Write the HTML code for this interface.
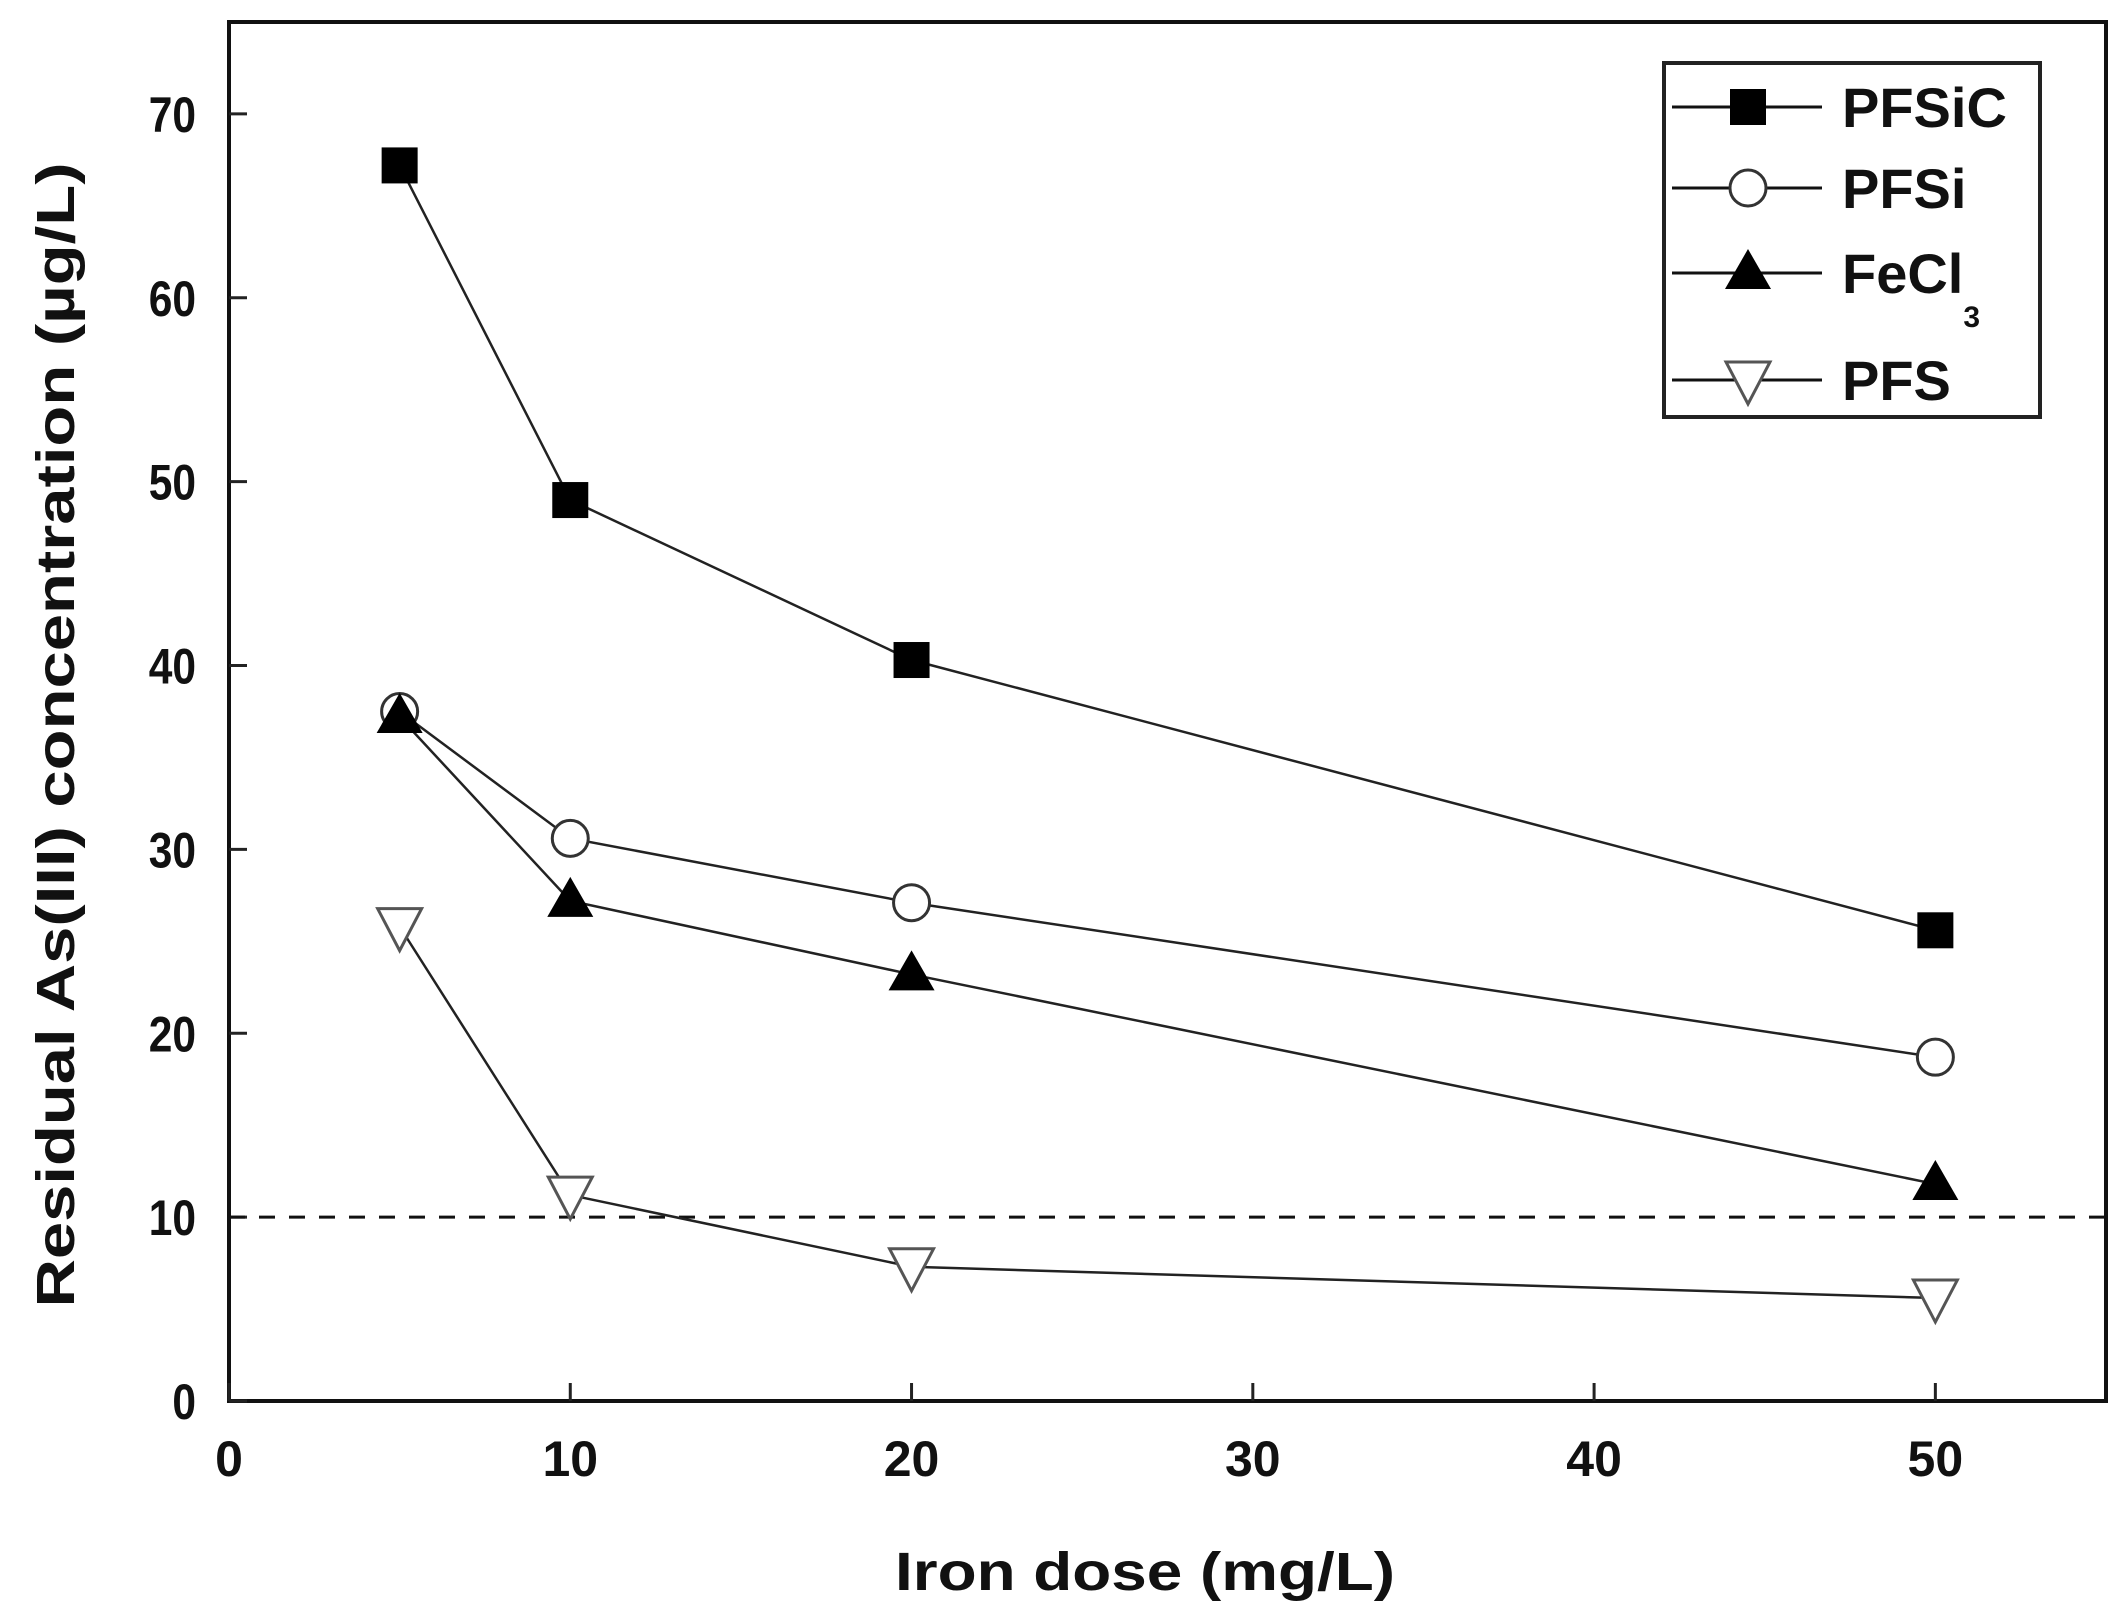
<!DOCTYPE html>
<html><head><meta charset="utf-8"><style>
html,body{margin:0;padding:0;background:#fff;}
svg{display:block;font-family:"Liberation Sans",Arial,sans-serif;}
</style></head><body>
<svg id="chart" width="2124" height="1611" viewBox="0 0 2124 1611" xmlns="http://www.w3.org/2000/svg">
<g id="frame"></g>
<g id="series"></g>
<g id="legend"></g>
</svg>
<script>
const xCats = [5, 10, 20, 50];
const pfsic = [67.2, 49.0, 40.3, 25.6];
const pfsi = [37.5, 30.6, 27.1, 18.7];
const fecl3 = [37.2, 27.2, 23.2, 11.8];
const pfs = [25.8, 11.2, 7.3, 5.6];
const xTicks = [0, 10, 20, 30, 40, 50];
const yTicks = [0, 10, 20, 30, 40, 50, 60, 70];
const limitValue = 10;

const NS = "http://www.w3.org/2000/svg";
const L = 229, R = 2106, T = 22, B = 1401;
const X_MAX = 55, Y_MAX = 75;
function xs(v){ return L + v/X_MAX*(R-L); }
function ys(v){ return B - v/Y_MAX*(B-T); }
function mk(tag, attrs, parent){
  const e = document.createElementNS(NS, tag);
  for (const k in attrs) e.setAttribute(k, attrs[k]);
  parent.appendChild(e);
  return e;
}
const frame = document.getElementById('frame');
const series = document.getElementById('series');
const legend = document.getElementById('legend');

const box = mk('rect', {x:L, y:T, width:R-L, height:B-T, fill:'none', stroke:'#111', 'stroke-width':4}, frame);



yTicks.forEach(v => {
  const t = mk('line', {x1:L, x2:L+18, y1:ys(v), y2:ys(v), stroke:'#222', 'stroke-width':3}, frame);
  
  
  const lb = mk('text', {x:196, y:ys(v)+18, 'text-anchor':'end', 'font-size':50, 'font-weight':'bold', fill:'#111', transform:`translate(${196*0.15},0) scale(0.85,1)`}, frame);
  lb.setAttribute('x', 196/0.85 - 196*0.15/0.85);
  lb.textContent = v;
  
  
});
xTicks.forEach(v => {
  const t = mk('line', {x1:xs(v), x2:xs(v), y1:B, y2:B-18, stroke:'#222', 'stroke-width':3}, frame);
  
  
  const lb = mk('text', {x:xs(v), y:1476, 'text-anchor':'middle', 'font-size':50, 'font-weight':'bold', fill:'#111'}, frame);
  lb.textContent = v;
  
  
});

const xt = mk('text', {x:1145, y:1590, 'text-anchor':'middle', 'font-size':54, 'font-weight':'bold', fill:'#111', textLength:500, lengthAdjust:'spacingAndGlyphs'}, frame);
xt.textContent = 'Iron dose (mg/L)';


const yt = mk('text', {x:0, y:0, transform:'translate(74,735) rotate(-90)', 'text-anchor':'middle', 'font-size':54, 'font-weight':'bold', fill:'#111', textLength:1145, lengthAdjust:'spacingAndGlyphs'}, frame);
yt.textContent = 'Residual As(III) concentration (\u00b5g/L)';



const dl = mk('line', {x1:L, x2:R, y1:ys(limitValue), y2:ys(limitValue), stroke:'#111', 'stroke-width':3, 'stroke-dasharray':'16,14'}, frame);



function marker(type, cx, cy, parent){
  let e;
  if (type === 'square') e = mk('rect', {x:cx-18, y:cy-18, width:36, height:36, fill:'#000'}, parent);
  else if (type === 'circle') e = mk('circle', {cx:cx, cy:cy, r:18, fill:'#fff', stroke:'#333', 'stroke-width':3}, parent);
  else if (type === 'tri') e = mk('polygon', {points:`${cx},${cy-24} ${cx+23},${cy+16} ${cx-23},${cy+16}`, fill:'#000'}, parent);
  else e = mk('polygon', {points:`${cx-22},${cy-18} ${cx+22},${cy-18} ${cx},${cy+24}`, fill:'#fff', stroke:'#555', 'stroke-width':3}, parent);
  return e;
}
const defs = [
  {name:'pfsic', label:'PFSiC', vals:pfsic, m:'square'},
  {name:'pfsi', label:'PFSi', vals:pfsi, m:'circle'},
  {name:'fecl3', label:'FeCl', vals:fecl3, m:'tri'},
  {name:'pfs', label:'PFS', vals:pfs, m:'dtri'}
];
defs.forEach(d => {
  const pts = d.vals.map((v,i) => xs(xCats[i]) + ',' + ys(v)).join(' ');
  const pl = mk('polyline', {points:pts, fill:'none', stroke:'#222', 'stroke-width':2.5}, series);
  
  
  d.vals.forEach((v,i) => {
    const m = marker(d.m, xs(xCats[i]), ys(v), series);
    
    
  });
});

const lb = mk('rect', {x:1664, y:63, width:376, height:354, fill:'#fff', stroke:'#222', 'stroke-width':4}, legend);


const rowsY = [107, 188, 273, 380];
defs.forEach((d,i) => {
  const y = rowsY[i];
  const ln = mk('line', {x1:1672, x2:1822, y1:y, y2:y, stroke:'#111', 'stroke-width':3}, legend);
  
  
  const m = marker(d.m, 1748, y, legend);
  
  
  const t = mk('text', {x:1842, y:y+20, 'font-size':56, 'font-weight':'bold', fill:'#111'}, legend);
  t.textContent = d.label;
  if (d.name === 'fecl3') {
    const s = mk('tspan', {'font-size':30, dy:34}, t);
    s.textContent = '3';
  }
  
  
});
</script>
</body></html>
